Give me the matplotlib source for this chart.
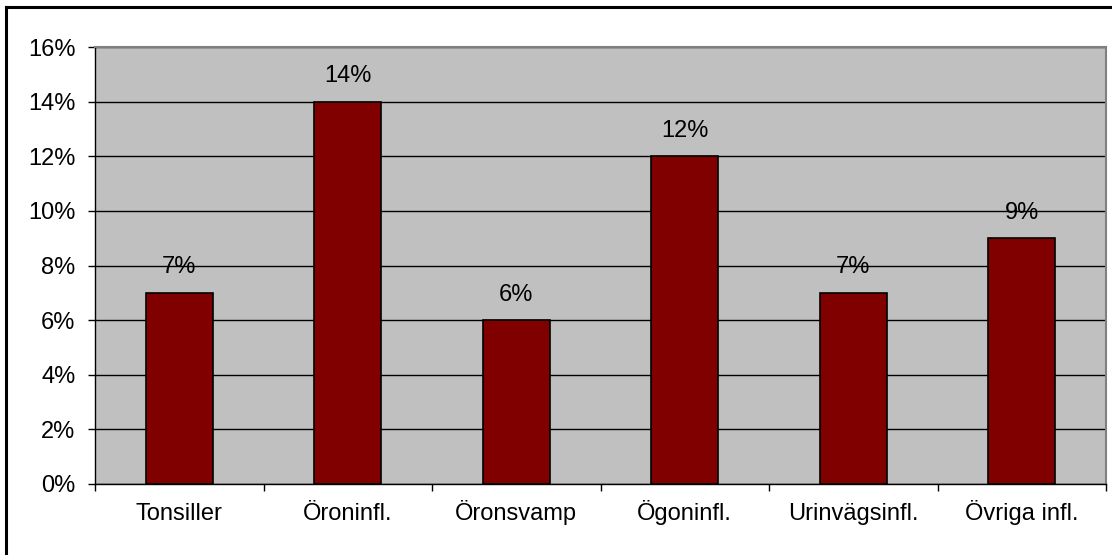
import matplotlib
matplotlib.use("Agg")
import matplotlib.pyplot as plt
from matplotlib.ticker import FixedLocator, NullFormatter
from matplotlib.lines import Line2D

categories = ["Tonsiller", "Öroninfl.", "Öronsvamp", "Ögoninfl.", "Urinvägsinfl.", "Övriga infl."]
values = [7, 14, 6, 12, 7, 9]
yticks = [0, 2, 4, 6, 8, 10, 12, 14, 16]
ytick_labels = [f"{v}%" for v in yticks]
bar_labels = [f"{v}%" for v in values]

plt.rcParams['font.family'] = ['Liberation Sans', 'DejaVu Sans']
FS = 17

fig = plt.figure(figsize=(11.12, 5.55), dpi=100)
fig.patch.set_facecolor("white")
ax = fig.add_axes([95/1112, 1-484/555, (1106-95)/1112, (484-47)/555])
ax.set_facecolor("#C0C0C0")

x = list(range(len(categories)))
bars = ax.bar(x, values, width=0.4, color="#800000", edgecolor="black", linewidth=1.2, zorder=3)

ax.set_xlim(-0.5, len(categories) - 0.5)
ax.set_ylim(0, 16)
ax.set_yticks(yticks)
ax.set_yticklabels(ytick_labels, fontsize=FS)
ax.yaxis.grid(True, color="black", linewidth=1.0, zorder=1)
ax.set_axisbelow(True)

ax.set_xticks(x)
ax.set_xticklabels(categories, fontsize=FS, va="baseline")
ax.tick_params(axis='x', which='major', length=0, pad=26)
ax.xaxis.set_minor_locator(FixedLocator([i - 0.5 for i in range(len(categories) + 1)]))
ax.xaxis.set_minor_formatter(NullFormatter())
ax.tick_params(axis='x', which='minor', length=5, width=1, color='black', direction='out')
ax.tick_params(axis='y', length=5, width=1, pad=9, direction='out')

for s in ["top", "right"]:
    ax.spines[s].set_color("#808080")
    ax.spines[s].set_linewidth(1.5)
for s in ["left", "bottom"]:
    ax.spines[s].set_color("black")
    ax.spines[s].set_linewidth(1.0)

for b, lab in zip(bars, bar_labels):
    ax.annotate(lab, (b.get_x() + b.get_width() / 2, b.get_height()),
                xytext=(0, 14), textcoords="offset points",
                ha="center", va="baseline", fontsize=FS)

# figure border (top and left visible)
fig.add_artist(Line2D([6/1112, 6/1112], [0, 1-7/555], transform=fig.transFigure, color="black", linewidth=2.2))
fig.add_artist(Line2D([6/1112, 1], [1-7/555, 1-7/555], transform=fig.transFigure, color="black", linewidth=2.2))

fig.savefig("out.png", dpi=100)
